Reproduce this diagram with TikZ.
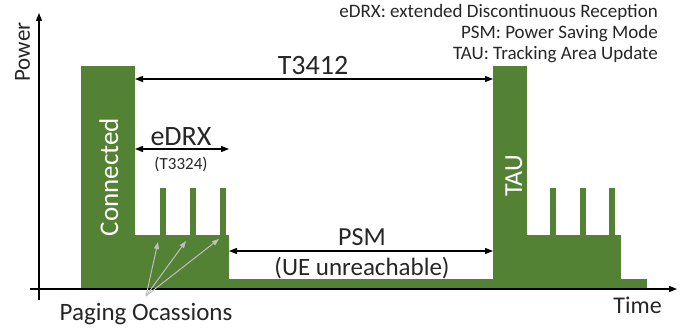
\documentclass[tikz,border=0pt]{standalone}
\usepackage{fontspec}
\setmainfont{Carlito}
\usetikzlibrary{arrows.meta}

\definecolor{powergreen}{RGB}{84,130,53}
\definecolor{textgray}{RGB}{38,38,38}

\begin{document}
\begin{tikzpicture}[
    x=1pt, y=-1pt,
    power/.style={
        fill=powergreen
    },
    axis/.style={
        -{Triangle[length=8pt,width=6pt]},
        line width=1.2pt,
        black
    },
    dim/.style={
        {Triangle[length=8pt,width=6pt]}-{Triangle[length=8pt,width=6pt]},
        line width=1.2pt,
        black
    },
    hint/.style={
        -{Triangle[length=7pt,width=5pt]},
        line width=1pt,
        black!25
    },
    big/.style={
        inner sep=0pt,
        text=textgray,
        font=\fontsize{26}{30}\selectfont
    },
    small/.style={
        inner sep=0pt,
        text=textgray,
        font=\fontsize{17}{20}\selectfont
    },
    inbar/.style={
        inner sep=0pt,
        rotate=90,
        anchor=base,
        text=white
    }
]
\useasboundingbox (0,0) rectangle (694,329);

% Power profile
\fill[power] (81,289) rectangle (135,66);
\fill[power] (135,289) rectangle (229,235);
\fill[power] (229,289) rectangle (493,279);
\fill[power] (493,289) rectangle (527,66);
\fill[power] (527,289) rectangle (621,235);
\fill[power] (621,289) rectangle (647,279);
\foreach \x in {160,190,220,550,580,609}
    \fill[power] (\x,235) rectangle ++(6,-47);

% Axes
\coordinate (ybot) at (39,300);
\coordinate (ytop) at (39,13);
\coordinate (xleft) at (30,289);
\coordinate (xright) at (677,289);
\draw[axis] (ybot) -- (ytop);
\draw[axis] (xleft) -- (xright);
\node[big, rotate=90, anchor=base, font=\fontsize{23}{28}\selectfont] (power) at (30,52) {Power};
\node[big, anchor=base east, font=\fontsize{24}{28}\selectfont] (time) at (662,313) {Time};

% Labels inside the bars
\node[inbar, font=\fontsize{27}{30}\selectfont] (connected) at (118,177) {Connected};
\node[inbar, font=\fontsize{26}{30}\selectfont] (tau) at (522,176) {TAU};

% Timer arrows
\coordinate (t3412a) at (135,79);
\coordinate (t3412b) at (493,79);
\coordinate (edrxa) at (135,149);
\coordinate (edrxb) at (229,149);
\coordinate (psma) at (229,251);
\coordinate (psmb) at (493,251);
\draw[dim] (t3412a) -- (t3412b);
\draw[dim] (edrxa) -- (edrxb);
\draw[dim] (psma) -- (psmb);

\node[big, anchor=base, font=\fontsize{28}{30}\selectfont] (t3412) at (313,75) {T3412};
\node[big, anchor=base, font=\fontsize{28}{30}\selectfont] (edrx) at (181,145) {eDRX};
\node[small, anchor=base] (t3324) at (181,169) {(T3324)};
\node[big, anchor=base] (psm) at (362,245) {PSM};
\node[big, anchor=base, font=\fontsize{25}{30}\selectfont] (unreach) at (362,275) {(UE unreachable)};

% Paging occasions
\node[big, anchor=base, font=\fontsize{25}{30}\selectfont] (paging) at (146,320) {Paging Ocassions};
\coordinate (pg) at (146,296);
\coordinate (po1) at (158,242);
\coordinate (po2) at (186,241);
\coordinate (po3) at (219,239);
\draw[hint] (pg) -- (po1);
\draw[hint] (pg) -- (po2);
\draw[hint] (pg) -- (po3);

% Legend
\node[small, anchor=base east, font=\fontsize{19}{20}\selectfont] (leg1) at (658,18) {eDRX: extended Discontinuous Reception};
\node[small, anchor=base east, font=\fontsize{19}{20}\selectfont] (leg2) at (658,39) {PSM: Power Saving Mode};
\node[small, anchor=base east, font=\fontsize{19}{20}\selectfont] (leg3) at (658,60) {TAU: Tracking Area Update};

\end{tikzpicture}
\end{document}
